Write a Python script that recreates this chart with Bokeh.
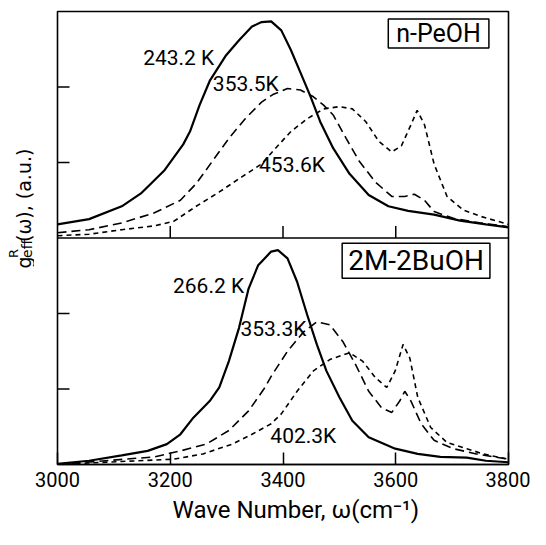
import math
from bokeh.plotting import figure
from bokeh.layouts import row
from bokeh.models import Range1d, FixedTicker, Span, Label, Title
from bokeh.core.properties import value
from bokeh.embed import file_html
from bokeh.resources import INLINE

# ---------------- data ----------------
X_TICKS = [3000, 3200, 3400, 3600, 3800]
Y_TICKS = [1, 2]
PANEL = 3.0
X_LABEL = "Wave Number, \u03c9(cm\u207b\u00b9)"
Y_LABEL_PARTS = ["g", "R", "eff", "(\u03c9), (a.u.)"]

# upper panel: n-PeOH
top_label = "n-PeOH"
t1_name = "243.2 K"
t1_w = [3000, 3056, 3114, 3148, 3189, 3223, 3235, 3252, 3270, 3298, 3322, 3345, 3362, 3379,
        3397, 3414, 3431, 3448, 3466, 3489, 3518, 3552, 3587, 3622, 3668, 3714, 3760, 3800]
t1_g = [0.18, 0.25, 0.42, 0.59, 0.89, 1.24, 1.41, 1.76, 2.08, 2.41, 2.62, 2.80, 2.86, 2.87,
        2.75, 2.49, 2.19, 1.89, 1.54, 1.19, 0.85, 0.57, 0.42, 0.36, 0.31, 0.23, 0.18, 0.14]
t2_name = "353.5K"
t2_w = [3000, 3056, 3114, 3171, 3218, 3246, 3275, 3304, 3333, 3362, 3382, 3408, 3431, 3454,
        3472, 3489, 3512, 3535, 3564, 3593, 3616, 3633, 3651, 3668, 3702, 3749, 3800]
t2_g = [0.07, 0.11, 0.20, 0.33, 0.50, 0.72, 1.02, 1.32, 1.58, 1.80, 1.90, 1.98, 1.96, 1.87,
        1.76, 1.63, 1.32, 1.02, 0.74, 0.55, 0.55, 0.58, 0.50, 0.35, 0.26, 0.20, 0.15]
t3_name = "453.6K"
t3_w = [3000, 3056, 3114, 3171, 3206, 3246, 3287, 3327, 3362, 3382, 3414, 3443, 3472, 3500,
        3523, 3547, 3570, 3593, 3610, 3627, 3638, 3651, 3668, 3691, 3720, 3749, 3800]
t3_g = [0.03, 0.05, 0.11, 0.16, 0.22, 0.42, 0.61, 0.81, 0.98, 1.15, 1.41, 1.58, 1.71, 1.74,
        1.71, 1.54, 1.28, 1.14, 1.22, 1.50, 1.69, 1.50, 0.98, 0.55, 0.37, 0.29, 0.18]

# lower panel: 2M-2BuOH
bot_label = "2M-2BuOH"
b1_name = "266.2 K"
b1_w = [3000, 3056, 3114, 3160, 3194, 3218, 3241, 3270, 3287, 3304, 3322, 3339, 3356, 3379,
        3391, 3408, 3425, 3443, 3460, 3477, 3500, 3523, 3552, 3599, 3639, 3679, 3726, 3760, 3800]
b1_g = [0.01, 0.05, 0.12, 0.18, 0.27, 0.40, 0.62, 0.84, 1.02, 1.37, 1.81, 2.33, 2.64, 2.82,
        2.84, 2.73, 2.42, 1.98, 1.59, 1.24, 0.89, 0.58, 0.36, 0.21, 0.14, 0.10, 0.09, 0.05, 0.03]
b2_name = "353.3K"
b2_w = [3000, 3085, 3171, 3218, 3264, 3304, 3339, 3368, 3380, 3408, 3437, 3460, 3483, 3506,
        3529, 3552, 3575, 3593, 3607, 3616, 3627, 3645, 3668, 3702, 3743, 3800]
b2_g = [0.00, 0.05, 0.10, 0.18, 0.27, 0.45, 0.71, 1.02, 1.18, 1.50, 1.76, 1.89, 1.85, 1.63,
        1.32, 0.97, 0.75, 0.69, 0.84, 0.97, 0.84, 0.54, 0.32, 0.21, 0.14, 0.07]
b3_name = "402.3K"
b3_w = [3000, 3114, 3206, 3258, 3310, 3345, 3379, 3397, 3425, 3454, 3483, 3518, 3541, 3564,
        3584, 3599, 3613, 3625, 3639, 3662, 3691, 3726, 3755, 3800]
b3_g = [0.00, 0.04, 0.07, 0.14, 0.27, 0.40, 0.54, 0.67, 0.97, 1.24, 1.39, 1.48, 1.37, 1.15,
        1.02, 1.24, 1.59, 1.41, 0.89, 0.49, 0.29, 0.21, 0.14, 0.07]

# ---------------- layout sizes ----------------
TOTAL_W, TOTAL_H = 530, 529
LW = 34                     # width of the y-label strip
MAIN_W = TOTAL_W - LW
MAIN_H = TOTAL_H
ML, MR, MT, MB = 23, 22, 11, 65

# ---------------- main figure ----------------
p = figure(width=MAIN_W, height=MAIN_H, x_range=Range1d(3000, 3800),
           y_range=Range1d(0, 2 * PANEL), output_backend="svg", toolbar_location=None,
           title=None,
           min_border_left=ML, min_border_right=MR, min_border_top=MT, min_border_bottom=MB)
p.extra_y_ranges = {"top": Range1d(-PANEL, PANEL)}
p.grid.visible = False
p.yaxis.visible = False
p.outline_line_color = "black"
p.outline_line_width = 1.6
p.background_fill_color = "white"
p.border_fill_color = "white"

frame_w = MAIN_W - ML - MR
frame_h = MAIN_H - MT - MB
px_x = frame_w / 800.0
px_y = frame_h / (2 * PANEL)
TICK = 12
tx = TICK / px_x
ty = TICK / px_y

ax = p.xaxis[0]
ax.ticker = FixedTicker(ticks=X_TICKS)
ax.minor_tick_line_color = None
ax.major_tick_in = TICK
ax.major_tick_out = 0
ax.major_tick_line_width = 1.5
ax.axis_line_width = 1.6
ax.major_label_standoff = 7
ax.major_label_text_font = "Roboto"
ax.major_label_text_font_size = "20px"
ax.major_label_text_color = "black"

# x-axis title, placed below the tick labels
p.add_layout(Title(text=X_LABEL, align="left", offset=115, standoff=9,
                   text_font="Roboto", text_font_size="24px", text_font_style="normal",
                   text_color="black"), "below")

p.add_layout(Span(location=PANEL, dimension="width", line_color="black", line_width=1.6))
inner = X_TICKS[1:-1]
p.segment(x0=inner, y0=[0] * len(inner), x1=inner, y1=[ty] * len(inner),
          y_range_name="top", line_color="black", line_width=1.5)
p.segment(x0=[3000] * 2, y0=Y_TICKS, x1=[3000 + tx] * 2, y1=Y_TICKS,
          line_color="black", line_width=1.5)
p.segment(x0=[3000] * 2, y0=Y_TICKS, x1=[3000 + tx] * 2, y1=Y_TICKS,
          y_range_name="top", line_color="black", line_width=1.5)

SOLID = dict(line_color="black", line_width=2.2)
LONG = dict(line_color="black", line_width=1.6, line_dash="9 5")
SHORT = dict(line_color="black", line_width=1.6, line_dash="5 4")

p.line(t1_w, t1_g, y_range_name="top", **SOLID)
p.line(t2_w, t2_g, y_range_name="top", **LONG)
p.line(t3_w, t3_g, y_range_name="top", **SHORT)
p.line(b1_w, b1_g, **SOLID)
p.line(b2_w, b2_g, **LONG)
p.line(b3_w, b3_g, **SHORT)

def lab(text, x, y, size, rng="default", **kw):
    opts = dict(x=x, y=y, text=text, text_font="Roboto", text_font_size=size,
                text_align="center", text_baseline="middle", text_color="black")
    opts.update(kw)
    if rng != "default":
        opts["y_range_name"] = rng
    p.add_layout(Label(**opts))

lab(t1_name, 3215, 2.39, "21px", "top")
lab(t2_name, 3334, 2.04, "21px", "top")
lab(t3_name, 3416, 0.97, "21px", "top")
lab(b1_name, 3268, 2.36, "21px")
lab(b2_name, 3383, 1.80, "21px")
lab(b3_name, 3436, 0.38, "21px")

lab(top_label, 3676, 2.71, "25px", "top", border_line_color="black", border_line_width=1.5,
    background_fill_color="white", padding=dict(left=8, right=8, top=0, bottom=0))
lab(bot_label, 3636, 2.70, "28px", border_line_color="black", border_line_width=1.5,
    background_fill_color="white", padding=dict(left=6, right=6, top=1, bottom=1))

# ---------------- y label strip (pixel coordinates, y measured from top) ----------------
yl = figure(width=LW, height=MAIN_H, x_range=Range1d(0, LW), y_range=Range1d(0, MAIN_H),
            output_backend="svg", toolbar_location=None, x_axis_type=None,
            y_axis_type=None, title=None, min_border=0, min_border_left=0,
            min_border_right=0, min_border_top=0, min_border_bottom=0)
yl.outline_line_color = None
yl.grid.visible = False
yl.background_fill_color = "white"
yl.border_fill_color = "white"
YF = value("DejaVu Sans")
ANG = math.pi / 2
def ytxt(s, bx, py, size):
    yl.text(x=[bx], y=[MAIN_H - py], text=[s], angle=ANG, text_font=YF,
            text_font_size=value(size), text_align="left", text_baseline="alphabetic",
            text_color="black")
g_start = 300.0
ytxt(Y_LABEL_PARTS[0], 23.5, g_start, "19px")
ytxt(Y_LABEL_PARTS[1], 13.0, g_start - 12.2, "13px")
ytxt(Y_LABEL_PARTS[2], 26.0, g_start - 12.2, "14px")
ytxt(Y_LABEL_PARTS[3], 23.5, g_start - 12.2 - 18.6, "19px")

layout = row(yl, p)
open("out.html", "w").write(file_html(layout, INLINE))
